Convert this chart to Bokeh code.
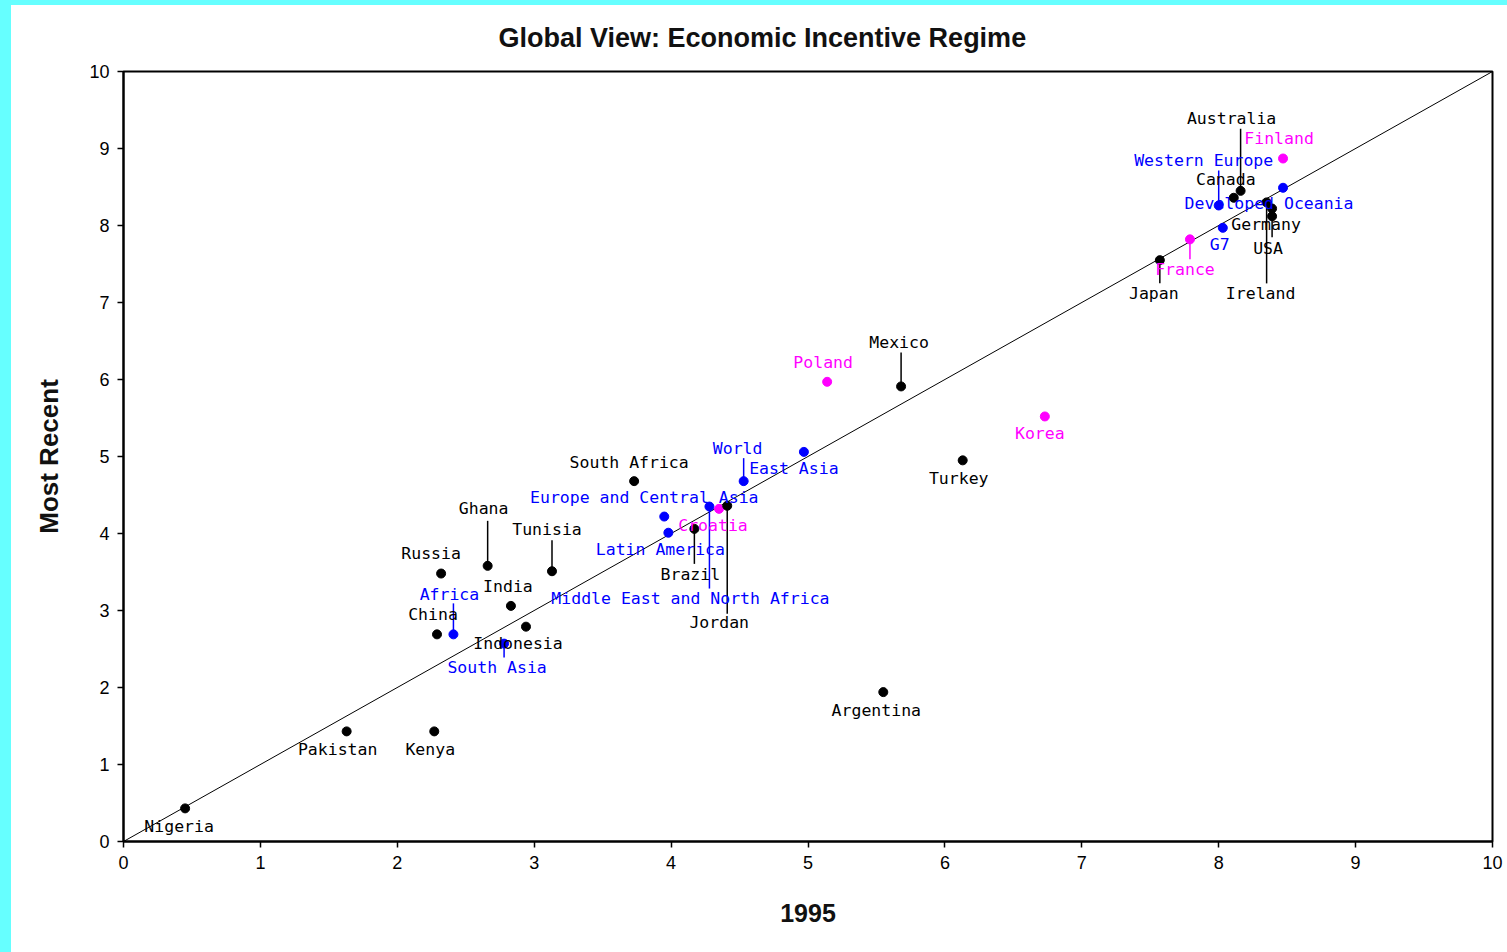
from bokeh.plotting import figure
from bokeh.models import ColumnDataSource, Range1d, FixedTicker, Div
from bokeh.layouts import column
from bokeh.core.properties import value
from bokeh.embed import file_html
from bokeh.resources import INLINE

# ---------------- data ----------------
names = ["Nigeria", "Pakistan", "Kenya", "Argentina", "China", "Africa", "Russia",
         "Ghana", "India", "Indonesia", "South Asia", "Tunisia", "South Africa",
         "Europe and Central Asia", "Latin America", "Brazil",
         "Middle East and North Africa", "Croatia", "Jordan", "World", "East Asia",
         "Poland", "Mexico", "Korea", "Turkey", "Japan", "France", "G7",
         "Western Europe", "Developed Oceania", "Finland", "Australia", "Canada",
         "Ireland", "Germany", "USA"]
score_1995 = [0.45, 1.63, 2.27, 5.55, 2.29, 2.41, 2.32,
              2.66, 2.83, 2.94, 2.78, 3.13, 3.73,
              3.95, 3.98, 4.17,
              4.28, 4.35, 4.41, 4.53, 4.97,
              5.14, 5.68, 6.73, 6.13, 7.57, 7.79, 8.03,
              8.00, 8.47, 8.47, 8.16, 8.11,
              8.35, 8.39, 8.39]
score_recent = [0.43, 1.43, 1.43, 1.94, 2.69, 2.69, 3.48,
                3.58, 3.06, 2.79, 2.57, 3.51, 4.68,
                4.22, 4.01, 4.06,
                4.35, 4.32, 4.36, 4.68, 5.06,
                5.97, 5.91, 5.52, 4.95, 7.55, 7.82, 7.97,
                8.26, 8.49, 8.87, 8.45, 8.36,
                8.30, 8.22, 8.12]
group = ["c", "c", "c", "c", "c", "r", "c",
         "c", "c", "c", "r", "c", "c",
         "r", "r", "c",
         "r", "t", "c", "r", "r",
         "t", "c", "t", "c", "c", "t", "r",
         "r", "r", "t", "c", "c",
         "c", "c", "c"]
diag = [0, 10]
ticks = list(range(0, 11))

# ---------------- label layout (screen px, relative to each point) ----------------
label_dx = [-6, -9, -4, -7, -4, -4, -10,
            -4, -3, -8, -7, -5, -5,
            -20, -8, -4,
            -19, -6, -8, -6, -10,
            -4, -2, -5, -4, -6, -5, -3,
            -15, -14, -4, -9, -8,
            -6, -6, -4]
label_dy = [18, 18, 18, 18, -20, -40, -20,
            -57, -19, 17, 24, -42, -19,
            -19, 17, 46,
            92, 17, 117, -33, 17,
            -19, -44, 17, 18, 33, 30, 17,
            -45, 16, -20, -72, -18,
            91, 16, 32]
leader_dy = [0, 0, 0, 0, 0, -31, 0,
             -45, 0, 0, 14, -31, 0,
             0, 0, 35,
             82, 0, 108, -23, 0,
             0, -34, 0, 0, 23, 20, 0,
             -35, 0, 0, -62, 0,
             81, 0, 21]

colour_of = {"c": "#000000", "r": "#0000ff", "t": "#ff00ff"}
colours = [colour_of[g] for g in group]

W, H = 1507, 952
MB_L, MB_R, MB_T, MB_B = 123, 15, 71, 111
frame_h = H - MB_T - MB_B
px_per_y = frame_h / (diag[1] - diag[0])

src = ColumnDataSource(dict(x=score_1995, y=score_recent, name=names,
                            colour=colours, dx=label_dx, dy=label_dy))

lx0, ly0, lx1, ly1, lc = [], [], [], [], []
for xv, yv, d, c in zip(score_1995, score_recent, leader_dy, colours):
    if d != 0:
        lx0.append(xv); ly0.append(yv)
        lx1.append(xv); ly1.append(yv - d / px_per_y)
        lc.append(c)
lead_src = ColumnDataSource(dict(x0=lx0, y0=ly0, x1=lx1, y1=ly1, c=lc))

p = figure(width=W, height=H, x_range=Range1d(0, 10), y_range=Range1d(0, 10),
           output_backend="svg", toolbar_location=None,
           min_border_left=MB_L, min_border_right=MB_R,
           min_border_top=MB_T, min_border_bottom=MB_B,
           title="Global View: Economic Incentive Regime")
p.title.text_font = "Liberation Sans"
p.title.text_font_size = "27px"
p.title.text_font_style = "bold"
p.title.text_color = "#111111"
p.title.align = "left"
p.title.offset = 375
p.title.standoff = 38

p.xgrid.visible = False
p.ygrid.visible = False
p.background_fill_color = "white"
p.border_fill_color = "white"
p.outline_line_color = "black"
p.outline_line_width = 2
p.outline_line_alpha = 1

for ax in (p.xaxis[0], p.yaxis[0]):
    ax.ticker = FixedTicker(ticks=ticks)
    ax.minor_tick_line_color = None
    ax.major_tick_in = 0
    ax.major_tick_out = 6
    ax.major_tick_line_width = 1.5
    ax.major_tick_line_color = "black"
    ax.axis_line_width = 2
    ax.axis_line_color = "black"
    ax.major_label_text_font = "Liberation Sans"
    ax.major_label_text_font_size = "18px"
    ax.major_label_text_color = "black"
    ax.axis_label_text_font = "Liberation Sans"
    ax.axis_label_text_font_style = "bold"
    ax.axis_label_text_color = "#111111"

p.xaxis.axis_label = "1995"
p.xaxis.axis_label_text_font_size = "25px"
p.xaxis.major_label_standoff = 8
p.xaxis.axis_label_standoff = 32
p.yaxis.axis_label = "Most Recent"
p.yaxis.axis_label_text_font_size = "26px"
p.yaxis.major_label_standoff = 8
p.yaxis.axis_label_standoff = 22

p.line(diag, diag, line_color="black", line_width=1)
p.segment(x0="x0", y0="y0", x1="x1", y1="y1", line_color="c", line_width=1.5,
          source=lead_src)
p.scatter(x="x", y="y", marker="circle", size=9, fill_color="colour",
          line_color="colour", source=src)
p.text(x="x", y="y", text="name", x_offset="dx", y_offset="dy",
       text_color="colour", text_font=value("DejaVu Sans Mono"),
       text_font_size="16.5px", text_align="center", text_baseline="middle",
       source=src)

strip = Div(text=('<div style="position:fixed;left:0;top:0;width:11px;height:952px;'
                  'background:#66ffff;z-index:10"></div>'
                  '<div style="position:fixed;left:0;top:0;width:1507px;height:5px;'
                  'background:#66ffff;z-index:10"></div>'),
            width=1, height=0)

layout = column(p, strip, spacing=0)
open("out.html", "w").write(file_html(layout, INLINE))
